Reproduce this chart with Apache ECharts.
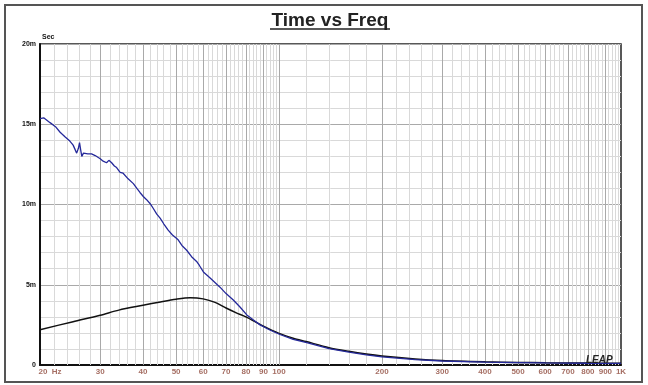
<!DOCTYPE html>
<html><head><meta charset="utf-8">
<script src="https://cdn.jsdelivr.net/npm/echarts@6/dist/echarts.min.js"></script>
<style>html,body{margin:0;padding:0;background:#fff}#c{width:648px;height:385px}</style>
</head><body><div id="c"></div>
<script>
// ---- data (ms vs Hz) ----
const blueFreq = [20,20.5,21.4,22.2,22.9,23.7,24.45,25.0,25.3,25.6,25.9,26.1,26.3,26.5,26.8,27.1,27.6,28.3,29.0,30.0,30.6,31.3,31.8,32.4,33.0,33.5,34.3,35.0,36.2,37.5,38.4,39.2,40.1,41.0,42.0,42.9,43.9,44.9,46.0,47.4,48.8,50.7,52.0,53.7,55.5,57.4,58.5,60.1,63,67.2,70,73.5,77,80.5,84,88,94,100.6,110,120.5,140,160,180,200,250,300,400,500,600,800,1000];
const blueMs   = [15.35,15.4,15.1,14.85,14.5,14.2,13.95,13.7,13.45,13.2,13.5,13.85,13.4,13.0,13.2,13.3,13.15,13.15,13.05,12.85,12.7,12.6,12.75,12.6,12.4,12.3,12.0,11.95,11.6,11.3,11.0,10.75,10.5,10.3,10.05,9.75,9.4,9.15,8.8,8.4,8.1,7.8,7.45,7.15,6.75,6.45,6.2,5.8,5.4,4.85,4.45,4.05,3.6,3.12,2.82,2.5,2.18,1.9,1.6,1.4,1.02,0.8,0.63,0.5,0.34,0.25,0.18,0.15,0.13,0.11,0.1];
const blackFreq = [20,25,30,34,40,45,50,55,60,65,70,75,80,90,100,110,120,140,160,180,200,250,300,400,500,600,800,1000];
const blackMs   = [2.2,2.7,3.1,3.42,3.72,3.93,4.1,4.19,4.12,3.9,3.55,3.25,3.0,2.42,1.97,1.67,1.46,1.08,0.85,0.68,0.56,0.38,0.28,0.2,0.16,0.14,0.12,0.11];
// ---- axis ticks ----
const xTickValues = [20,30,40,50,60,70,80,90,100,200,300,400,500,600,700,800,900,1000];
const xTickLabels = ['20  Hz','30','40','50','60','70','80','90','100','200','300','400','500','600','700','800','900','1K'];
const xMajorGrid = [30,40,50,60,70,80,90,100,200,300,400,500,600,700,800,900];
const yTickLabels = {0:'0',5:'5m',10:'10m',15:'15m',20:'20m'};

const xMinorGrid = [];
for (let v = 22; v < 100; v += 2) if (v % 10) xMinorGrid.push(v);
for (let v = 120; v < 1000; v += 20) if (v % 100) xMinorGrid.push(v);

const zip = (a, b) => a.map((v, i) => [v, b[i]]);
const chart = echarts.init(document.getElementById('c'), null, {renderer: 'canvas'});
const FONT = '"Liberation Sans", Arial, sans-serif';
chart.setOption({
  animation: false,
  backgroundColor: '#fff',
  grid: {left: 40, right: 27, top: 44, bottom: 20, show: true, borderColor: '#222', borderWidth: 1.5, backgroundColor: 'transparent'},
  xAxis: {type: 'log', logBase: 10, min: 20, max: 1000,
    axisLine: {lineStyle: {color: '#111', width: 2}}, axisTick: {show: false},
    axisLabel: {show: false}, splitLine: {show: false}, minorSplitLine: {show: false}},
  yAxis: {type: 'value', min: 0, max: 20, interval: 1,
    name: 'Sec', nameLocation: 'end', nameGap: 3,
    nameTextStyle: {align: 'left', padding: [0, 0, 0, 2], fontSize: 7, fontWeight: 'bold', color: '#111', fontFamily: FONT},
    axisLine: {show: true, lineStyle: {color: '#111', width: 2}}, axisTick: {show: false},
    axisLabel: {fontSize: 7, fontWeight: 'bold', color: '#111', fontFamily: FONT, margin: 4,
      formatter: v => yTickLabels[v] !== undefined ? yTickLabels[v] : ''},
    splitLine: {show: true, lineStyle: {width: 1, color: ['#a9a9a9','#d9d9d9','#d9d9d9','#d9d9d9','#d9d9d9']}}},
  graphic: [
    {type: 'rect', shape: {x: 5, y: 5, width: 637, height: 377}, style: {fill: 'none', stroke: '#555', lineWidth: 2}, z: 100},
    {type: 'text', x: 330, y: 11, style: {text: 'Time vs Freq', font: 'bold 19px ' + FONT, fill: '#222', textAlign: 'center'}, z: 100},
    {type: 'line', shape: {x1: 270, y1: 29, x2: 390, y2: 29}, style: {stroke: '#222', lineWidth: 1.5}, z: 100},
    {type: 'text', x: 586, y: 355, style: {text: 'LEAP', font: 'italic bold 10px ' + FONT, fill: '#222'}, z: 100}
  ],
  series: [
    {type: 'line', data: [], z: 1, silent: true,
      markLine: {silent: true, z: 1, symbol: ['none','none'], label: {show: false}, animation: false,
        data: xMinorGrid.map(v => ({xAxis: v, lineStyle: {color: '#d9d9d9', width: 1, type: 'solid'}}))
          .concat(xMajorGrid.map(v => ({xAxis: v, lineStyle: {color: '#a9a9a9', width: 1, type: 'solid'}})))}},
    {type: 'line', data: zip(blackFreq, blackMs), smooth: 0.3, showSymbol: false, z: 3,
      lineStyle: {color: '#111', width: 1.5}},
    {type: 'line', data: zip(blueFreq, blueMs), showSymbol: false, z: 4,
      lineStyle: {color: '#25299a', width: 1.3}},
    {type: 'scatter', data: zip(xTickValues, xTickValues.map(() => 0)), symbolSize: 0, z: 5, silent: true,
      label: {show: true, position: 'bottom', distance: 3, fontSize: 8, fontWeight: 'bold', color: '#8e4a3c', fontFamily: FONT,
        formatter: p => xTickLabels[p.dataIndex]},
      labelLayout: p => p.dataIndex === 0 ? {dx: 10} : {}}
  ]
});
</script></body></html>
